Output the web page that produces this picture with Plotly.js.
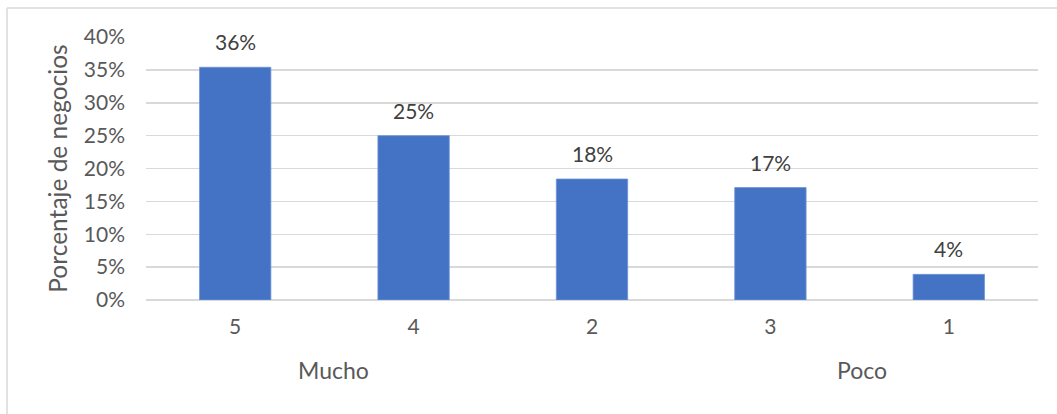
<!DOCTYPE html>
<html>
<head>
<meta charset="utf-8">
<script src="https://cdn.plot.ly/plotly-3.0.1.min.js"></script>
<style>
  html, body { margin: 0; padding: 0; background: #fff; }
  #chart { width: 1057px; height: 414px; }
</style>
</head>
<body>
<div id="chart"></div>
<script>
const categories = ["5", "4", "2", "3", "1"];
const values = [0.354, 0.250, 0.184, 0.171, 0.039];
const valueLabels = ["36%", "25%", "18%", "17%", "4%"];
const yTickVals = [0, 0.05, 0.10, 0.15, 0.20, 0.25, 0.30, 0.35, 0.40];
const yTickText = ["0%", "5%", "10%", "15%", "20%", "25%", "30%", "35%", "40%"];
const groupLabels = ["Mucho", "Poco"];
const yTitle = "Porcentaje de negocios";

const FONT = "Lato, 'Open Sans', sans-serif";
const GREY = "#595959";

const trace = {
  type: "bar",
  x: categories,
  y: values,
  marker: { color: "#4472C4", line: { color: "#6F93D6", width: 0.8 } },
  hoverinfo: "skip"
};

const annotations = categories.map((c, i) => ({
  x: i, y: values[i], xref: "x", yref: "y",
  text: valueLabels[i], showarrow: false,
  yanchor: "bottom", yshift: 11,
  font: { family: FONT, size: 21, color: "#404040" }
}));
annotations.push({
  x: 0.5, y: -0.265, xref: "x", yref: "paper",
  text: groupLabels[0], showarrow: false, yanchor: "middle", xshift: 9,
  font: { family: FONT, size: 23, color: GREY }
});
annotations.push({
  x: 3.5, y: -0.265, xref: "x", yref: "paper",
  text: groupLabels[1], showarrow: false, yanchor: "middle", xshift: 2,
  font: { family: FONT, size: 23, color: GREY }
});

const layout = {
  width: 1057, height: 414,
  margin: { l: 146, r: 19, t: 37, b: 114 },
  paper_bgcolor: "#ffffff",
  plot_bgcolor: "#ffffff",
  showlegend: false,
  bargap: 0.6,
  font: { family: FONT, color: GREY },
  xaxis: {
    type: "category",
    range: [-0.5, 4.5], autorange: false,
    showgrid: false, zeroline: false, showline: false,
    ticks: "", ticklabelstandoff: 12,
    tickfont: { family: FONT, size: 21, color: GREY },
    fixedrange: true
  },
  yaxis: {
    range: [0, 0.4], autorange: false,
    tickvals: yTickVals, ticktext: yTickText,
    showgrid: true, gridcolor: "#D9D9D9", gridwidth: 1.5,
    zeroline: true, zerolinecolor: "#D9D9D9", zerolinewidth: 1.5,
    showline: false, ticks: "", ticklabelstandoff: 20,
    tickfont: { family: FONT, size: 21, color: GREY },
    title: { text: yTitle, standoff: 9, font: { family: FONT, size: 24.5, color: GREY } },
    fixedrange: true
  },
  annotations: annotations,
  shapes: [
    { type: "line", xref: "paper", yref: "paper",
      x0: (7 - 146) / 892, x1: (1057 - 146) / 892, y0: (300 - 8) / 263, y1: (300 - 8) / 263,
      line: { color: "#D9D9D9", width: 1.5 } },
    { type: "line", xref: "paper", yref: "paper",
      x0: (7 - 146) / 892, x1: (7 - 146) / 892, y0: (300 - 8) / 263, y1: (300 - 420) / 263,
      line: { color: "#D9D9D9", width: 1.5 } }
  ]
};

Plotly.newPlot("chart", [trace], layout, { displayModeBar: false, staticPlot: true });
</script>
</body>
</html>
